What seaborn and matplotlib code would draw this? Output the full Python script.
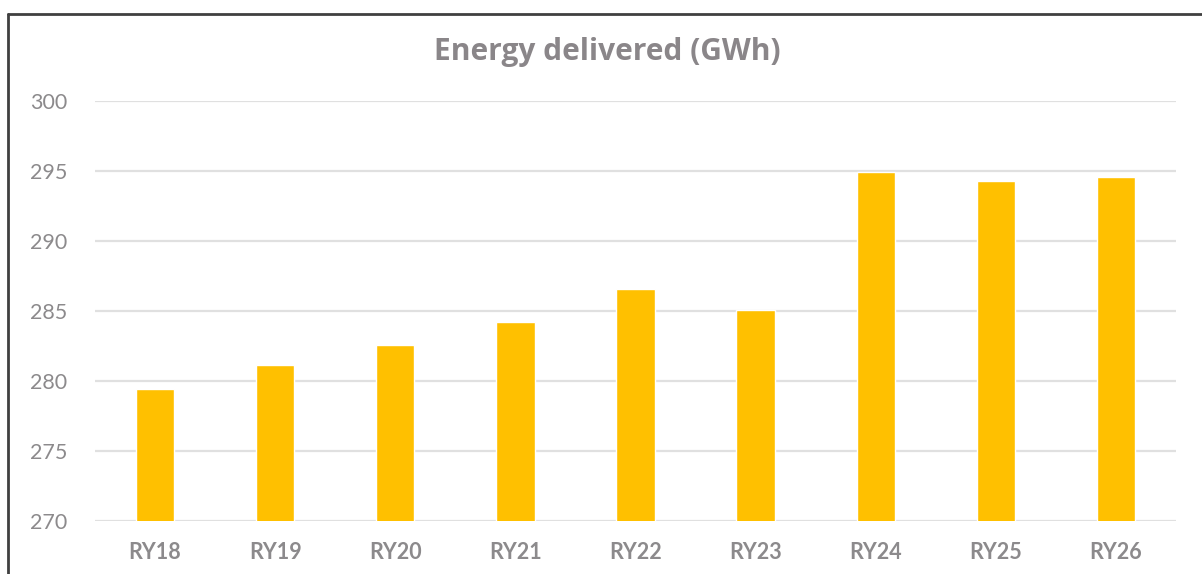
import matplotlib
matplotlib.use("Agg")
from matplotlib import pyplot as plt
from matplotlib.lines import Line2D
import pandas as pd
import seaborn as sns

# Data
years = ["RY18", "RY19", "RY20", "RY21", "RY22", "RY23", "RY24", "RY25", "RY26"]
energy_gwh = [279.45, 281.15, 282.6, 284.2, 286.55, 285.05, 294.9, 294.3, 294.55]

df = pd.DataFrame({"year": years, "energy": energy_gwh})

sns.set_style("white")
plt.rcParams["font.family"] = ["Lato", "DejaVu Sans"]

fig = plt.figure(figsize=(12.02, 5.74), dpi=100)
ax = fig.add_axes([95 / 1202, 1 - 521 / 574, (1176 - 95) / 1202, (521 - 101) / 574])

sns.barplot(data=df, x="year", y="energy", color="#FFC000", width=0.32,
            saturation=1, ax=ax, zorder=3)

ax.set_ylim(270, 300)
ax.set_yticks([270, 275, 280, 285, 290, 295, 300])
ax.set_xlim(-0.5, len(years) - 0.5)
ax.grid(axis="y", color="#e0e0e0", linewidth=1.6, zorder=0)
for s in ax.spines.values():
    s.set_visible(False)
ax.set_xlabel("")
ax.set_ylabel("")
ax.tick_params(axis="y", labelsize=15.5, labelcolor="#8c8a8c", length=0, pad=20)
ax.tick_params(axis="x", labelsize=15.5, labelcolor="#8c8a8c", length=0, pad=15)
for lbl in ax.get_xticklabels():
    lbl.set_fontweight("bold")

fig.text(0.505, 1 - 52 / 574, "Energy delivered (GWh)", ha="center", va="center",
         fontsize=21.5, fontweight="bold", color="#8a8689",
         family=["Open Sans", "DejaVu Sans"])

# outer frame (left and top edges visible in the crop)
fig.add_artist(Line2D([8 / 1202, 8 / 1202], [0, 1 - 14 / 574], color="#404040",
                      linewidth=2, transform=fig.transFigure))
fig.add_artist(Line2D([8 / 1202, 1], [1 - 14 / 574, 1 - 14 / 574], color="#404040",
                      linewidth=2, transform=fig.transFigure))

fig.savefig("out.png", dpi=100)
